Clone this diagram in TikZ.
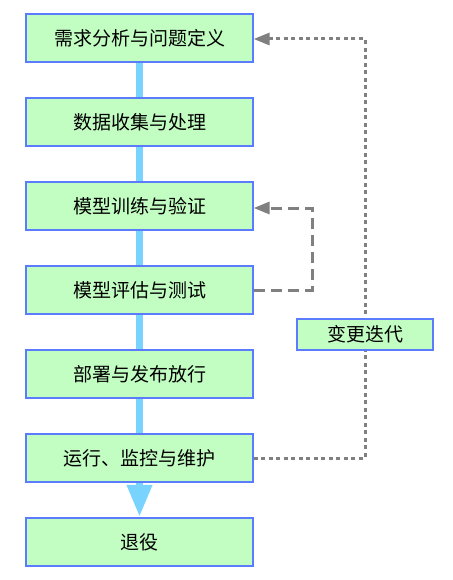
\documentclass[tikz,border=0pt]{standalone}
\usepackage{fontspec}
\setmainfont{Noto Sans CJK SC}
\usetikzlibrary{arrows.meta,backgrounds}
\definecolor{boxfill}{HTML}{C2FDC2}
\definecolor{boxline}{HTML}{5C7CFF}
\definecolor{flow}{HTML}{78D4FF}
\definecolor{loopgray}{HTML}{808080}
\tikzset{
  stepbox/.style={draw=boxline, line width=1.2pt, fill=boxfill, minimum width=227pt, minimum height=48pt, inner sep=0pt, font=\fontsize{19}{21}\selectfont},
  tagbox/.style={draw=boxline, line width=1.2pt, fill=boxfill, minimum width=136pt, minimum height=31pt, inner sep=0pt, font=\fontsize{19}{21}\selectfont},
  flowline/.style={draw=flow, line width=7pt},
  grayloop/.style={draw=loopgray, line width=3pt, -{Triangle[width=12pt,length=16pt]}},
}
\begin{document}
\begin{tikzpicture}[x=1pt,y=-1pt]
\useasboundingbox (0,0) rectangle (452,580);
\node[stepbox] (n1) at (139.5,38) {需求分析与问题定义};
\node[stepbox] (n2) at (139.5,122) {数据收集与处理};
\node[stepbox] (n3) at (139.5,206) {模型训练与验证};
\node[stepbox] (n4) at (139.5,290) {模型评估与测试};
\node[stepbox] (n5) at (139.5,374) {部署与发布放行};
\node[stepbox] (n6) at (139.5,458) {运行、监控与维护};
\node[stepbox] (n7) at (139.5,542) {退役};
\node[tagbox] (tag) at (365,334.5) {变更迭代};
\begin{pgfonlayer}{background}
  \draw[flowline] (n1.south) -- (n2.north);
  \draw[flowline] (n2.south) -- (n3.north);
  \draw[flowline] (n3.south) -- (n4.north);
  \draw[flowline] (n4.south) -- (n5.north);
  \draw[flowline] (n5.south) -- (n6.north);
  \draw[flowline, -{Triangle[width=24pt,length=32pt]}, shorten >=0.6pt] (n6.south) -- (n7.north);
  \coordinate (d1) at (312,290);
  \coordinate (d2) at (312,208);
  \draw[grayloop, dash pattern=on 11pt off 6pt] (n4.east) -- (d1) -- (d2) -- (n3.east |- d2);
  \coordinate (p1) at (365,458);
  \coordinate (p2) at (365,39);
  \draw[grayloop, dash pattern=on 4pt off 3.5pt] (n6.east) -- (p1) -- (p2) -- (n1.east |- p2);
\end{pgfonlayer}
\end{tikzpicture}
\end{document}
